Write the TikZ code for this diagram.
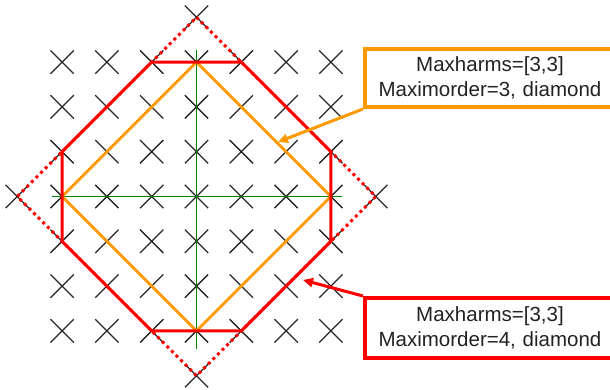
\documentclass[tikz,border=0pt]{standalone}
\usepackage{fontspec}
\setmainfont{Liberation Sans}
\usetikzlibrary{shapes.misc,arrows.meta}
\definecolor{myorange}{RGB}{255,153,0}
\definecolor{myred}{RGB}{255,0,0}
\definecolor{mygreen}{RGB}{0,128,0}
\definecolor{txtgray}{RGB}{34,34,34}
\tikzset{
  xmark/.style={cross out, draw=black!85, line width=1.3pt, minimum size=22pt, inner sep=0pt},
  axisline/.style={draw=mygreen, line width=1pt},
  orangepoly/.style={draw=myorange, line width=2.7pt, line join=round},
  redpoly/.style={draw=myred, line width=3pt, line join=round},
  reddots/.style={draw=myred, line width=3pt, dash pattern=on 3pt off 3.5pt},
  labelbox/.style={draw, line width=4pt, minimum width=250pt, text width=240pt, align=center,
    inner sep=0pt, text=txtgray, font=\fontsize{20.5pt}{25pt}\selectfont},
  callout/.style={line width=3pt, -{Triangle[length=10pt,width=9pt]}}
}
\begin{document}
\begin{tikzpicture}[x=1pt,y=-1pt]
\useasboundingbox (0,0) rectangle (610,390);
\clip (0,0) rectangle (610,390);
% grid of harmonics
\foreach \i in {-3,...,3}
  \foreach \j in {-3,...,3}
    \node[xmark] (g\i\j) at ({196.5+44.8*\i},{196.5-44.8*\j}) {};
\node[xmark] (top) at (196.5,17.3) {};
\node[xmark] (bot) at (196.5,375.7) {};
\node[xmark] (lft) at (17.3,196.5) {};
\node[xmark] (rgt) at (375.7,196.5) {};
% axes
\coordinate (ax1) at (52,196.5);
\coordinate (ax2) at (342,196.5);
\coordinate (ay1) at (196.5,50);
\coordinate (ay2) at (196.5,349);
\draw[axisline] (ax1) -- (ax2);
\draw[axisline] (ay1) -- (ay2);
% orange diamond
\draw[orangepoly] (g03.center) -- (g30.center) -- (g0-3.center) -- (g-30.center) -- cycle;
% red dotted diamond
\draw[reddots] (top.center) -- (rgt.center) -- (bot.center) -- (lft.center) -- cycle;
% red octagon
\draw[redpoly] (g-13.center) -- (g13.center) -- (g31.center) -- (g3-1.center)
  -- (g1-3.center) -- (g-1-3.center) -- (g-3-1.center) -- (g-31.center) -- cycle;
% labels
\node[labelbox, draw=myorange, minimum height=58pt] (obox) at (490,78)
  {Maxharms=[3,3]\\Maximorder=3, diamond};
\node[labelbox, draw=myred, minimum height=60pt] (rbox) at (490,328)
  {Maxharms=[3,3]\\Maximorder=4, diamond};
\coordinate (otip) at (278,142);
\coordinate (rtip) at (303,280);
\draw[callout, draw=myorange, fill=myorange] (obox.south west) -- (otip);
\draw[callout, draw=myred, fill=myred] (rbox.north west) -- (rtip);
\end{tikzpicture}
\end{document}
